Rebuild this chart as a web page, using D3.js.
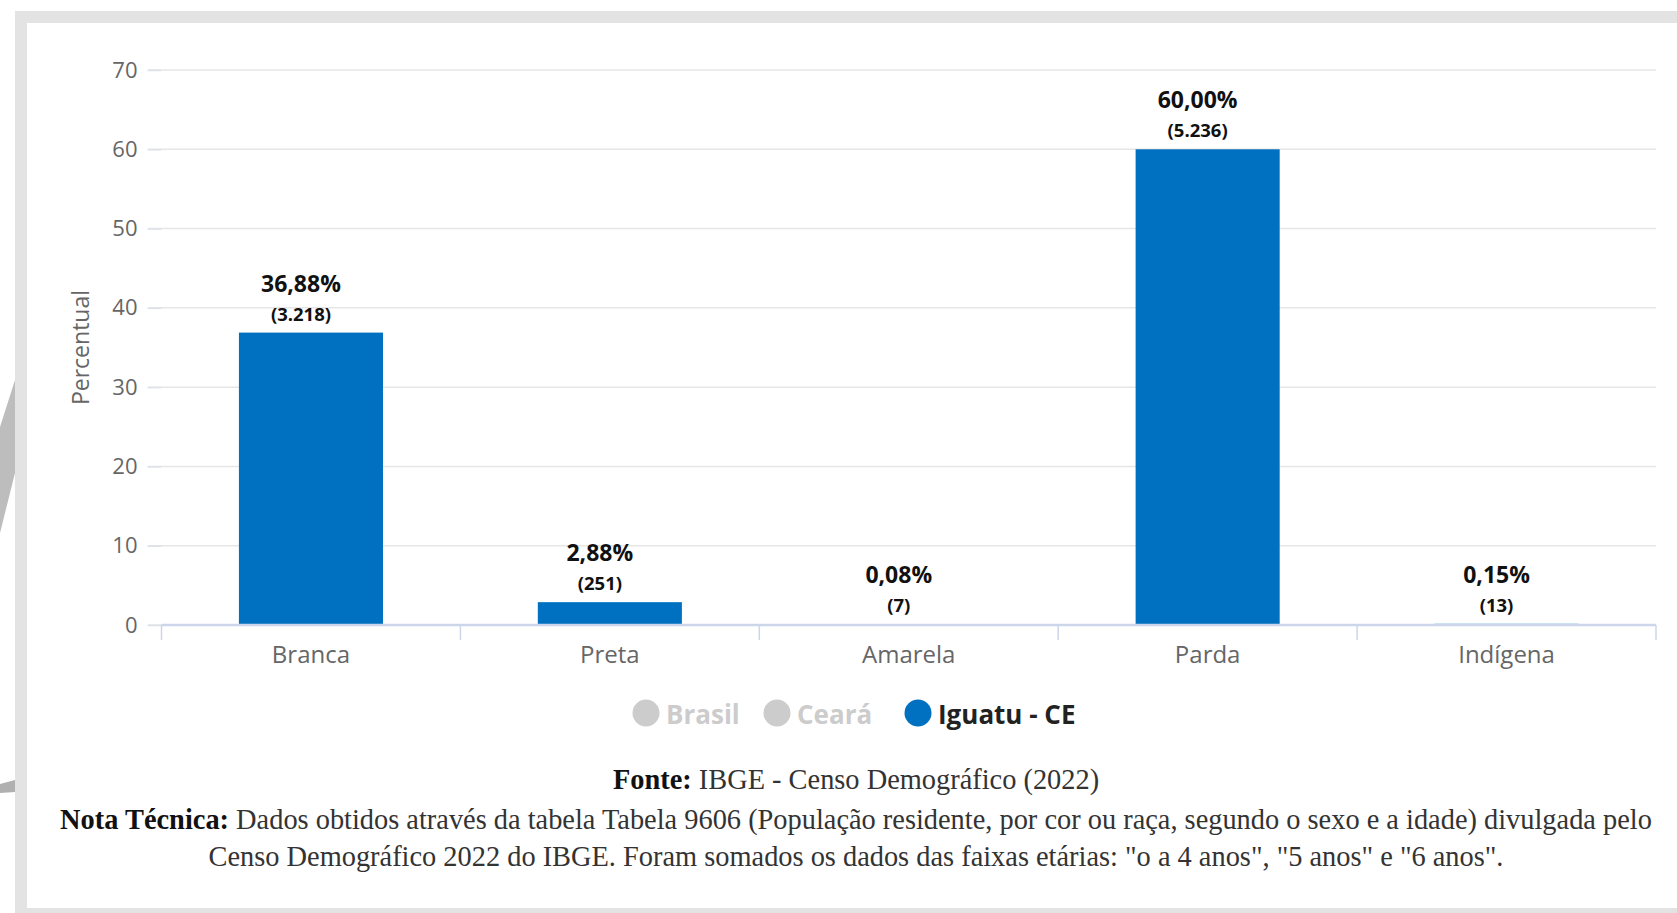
<!DOCTYPE html>
<html>
<head>
<meta charset="utf-8">
<script src="https://cdn.jsdelivr.net/npm/d3@7"></script>
<style>
  html, body { margin: 0; padding: 0; background: #ffffff; }
  svg { display: block; }
</style>
</head>
<body>
<svg id="chart" width="1677" height="913"></svg>
<script>
// ---- data ----
const categories = ["Branca", "Preta", "Amarela", "Parda", "Indígena"];
const percentValues = [36.88, 2.88, 0.08, 60.00, 0.15];
const countValues = [3218, 251, 7, 5236, 13];
const yTickValues = [0, 10, 20, 30, 40, 50, 60, 70];
const legendNames = ["Brasil", "Ceará", "Iguatu - CE"];
const legendActive = [false, false, true];
const yAxisTitle = "Percentual";
const sourceLabel = "Fonte:";
const sourceText = " IBGE - Censo Demográfico (2022)";
const noteLabel = "Nota Técnica:";
const noteLine1 = " Dados obtidos através da tabela Tabela 9606 (População residente, por cor ou raça, segundo o sexo e a idade) divulgada pelo";
const noteLine2 = "Censo Demográfico 2022 do IBGE. Foram somados os dados das faixas etárias: \"o a 4 anos\", \"5 anos\" e \"6 anos\".";

// ---- styles ----
const BAR = "#0070c0";
const SANS = "'Open Sans', 'Noto Sans', sans-serif";
const SERIF = "'Liberation Serif', 'DejaVu Serif', serif";
const locale = d3.formatLocale({decimal: ",", thousands: ".", grouping: [3], currency: ["R$", ""]});
const fmtPct = locale.format(".2f");
const fmtInt = locale.format(",d");

const svg = d3.select("#chart");

// frame + watermark
svg.append("rect").attr("x", 0).attr("y", 0).attr("width", 1677).attr("height", 913).attr("fill", "#ffffff");
svg.append("path").attr("d", "M15,380 L15,473 L0,533 L0,427 Z").attr("fill", "#bdbdbd");
svg.append("path").attr("d", "M0,784 L15,780 L15,792 L0,793 Z").attr("fill", "#b0b0b0");
svg.append("rect").attr("x", 21).attr("y", 17).attr("width", 1700).attr("height", 897)
  .attr("fill", "none").attr("stroke", "#e3e3e3").attr("stroke-width", 12);

// scales
const plotLeft = 161.5, plotRight = 1656, plotTop = 70, plotBottom = 625;
const x = d3.scaleBand().domain(categories).range([plotLeft, plotRight])
  .paddingInner(0.518).paddingOuter(0.259);
const y = d3.scaleLinear().domain([0, 70]).range([plotBottom, plotTop]);

// gridlines
const grid = svg.append("g");
grid.selectAll("line").data(yTickValues).join("line")
  .attr("x1", 148).attr("x2", plotRight)
  .attr("y1", d => y(d)).attr("y2", d => y(d))
  .attr("stroke", "#e6e6e6").attr("stroke-width", 1.5);

// y axis
const yAxis = svg.append("g").attr("transform", `translate(${plotLeft},0)`)
  .call(d3.axisLeft(y).tickValues(yTickValues).tickSize(14).tickPadding(10).tickFormat(d3.format("d")));
yAxis.select(".domain").remove();
yAxis.selectAll(".tick line").attr("stroke", "#dde2ea").attr("stroke-width", 1.5);
yAxis.selectAll(".tick text").attr("fill", "#666666").style("font-family", SANS).style("font-size", "22px");

// bars
const data = categories.map((c, i) => ({c, v: percentValues[i], n: countValues[i]}));
svg.append("g").selectAll("rect").data(data).join("rect")
  .attr("x", d => x(d.c)).attr("width", x.bandwidth())
  .attr("y", d => y(d.v)).attr("height", d => y(0) - y(d.v))
  .attr("fill", BAR);

// x axis (drawn over bars)
const xAxis = svg.append("g").attr("transform", `translate(0,${plotBottom})`)
  .call(d3.axisBottom(x).tickSize(0).tickPadding(0).offset(0));
xAxis.select(".domain").attr("stroke", "#ccd6eb").attr("stroke-width", 2.6);
xAxis.selectAll(".tick text").attr("fill", "#666666").style("font-family", SANS).style("font-size", "24px")
  .attr("y", 38).attr("dy", 0);
// category boundary ticks
const bounds = categories.map(c => x(c) - x.step() * 0.259).concat([plotRight]);
svg.append("g").selectAll("line").data(bounds).join("line")
  .attr("x1", d => d).attr("x2", d => d).attr("y1", plotBottom).attr("y2", plotBottom + 15)
  .attr("stroke", "#ccd6eb").attr("stroke-width", 1.5);

// y axis title
svg.append("text").attr("transform", `translate(89,${(plotTop + plotBottom) / 2}) rotate(-90)`)
  .attr("text-anchor", "middle").attr("fill", "#666666")
  .style("font-family", SANS).style("font-size", "23px").text(yAxisTitle);

// data labels
const lbl = svg.append("g");
lbl.selectAll("text.pct").data(data).join("text").attr("class", "pct")
  .attr("x", d => x(d.c) + x.bandwidth() / 2 - 10).attr("y", d => y(d.v) - 41)
  .attr("text-anchor", "middle").attr("fill", "#111111")
  .style("font-family", SANS).style("font-weight", 700).style("font-size", "23px")
  .text(d => fmtPct(d.v) + "%");
lbl.selectAll("text.cnt").data(data).join("text").attr("class", "cnt")
  .attr("x", d => x(d.c) + x.bandwidth() / 2 - 10).attr("y", d => y(d.v) - 12)
  .attr("text-anchor", "middle").attr("fill", "#111111")
  .style("font-family", SANS).style("font-weight", 700).style("font-size", "18.5px")
  .text(d => "(" + fmtInt(d.n) + ")");

// legend
const legendX = [646, 777, 918];
const leg = svg.append("g");
legendNames.forEach((name, i) => {
  leg.append("circle").attr("cx", legendX[i]).attr("cy", 713).attr("r", 13.5)
    .attr("fill", legendActive[i] ? BAR : "#cccccc");
  leg.append("text").attr("x", legendX[i] + 20).attr("y", 724)
    .attr("fill", legendActive[i] ? "#222222" : "#cccccc")
    .style("font-family", SANS).style("font-weight", 700).style("font-size", "26px")
    .text(name);
});

// footnotes
const cx = 856;
function line(yPos, boldPart, rest, size) {
  const t = svg.append("text").attr("x", cx).attr("y", yPos).attr("text-anchor", "middle")
    .attr("fill", "#333333").style("font-family", SERIF).style("font-size", size + "px");
  if (boldPart) t.append("tspan").style("font-weight", 700).attr("fill", "#111111").text(boldPart);
  t.append("tspan").text(rest);
  return t;
}
let fs = 26;
const probe = line(829, noteLabel, noteLine1, fs);
const w = probe.node().getComputedTextLength();
fs = fs * 1593 / w;
probe.remove();
line(789, sourceLabel, sourceText, fs);
line(829, noteLabel, noteLine1, fs);
line(866, null, noteLine2, fs);
</script>
</body>
</html>
